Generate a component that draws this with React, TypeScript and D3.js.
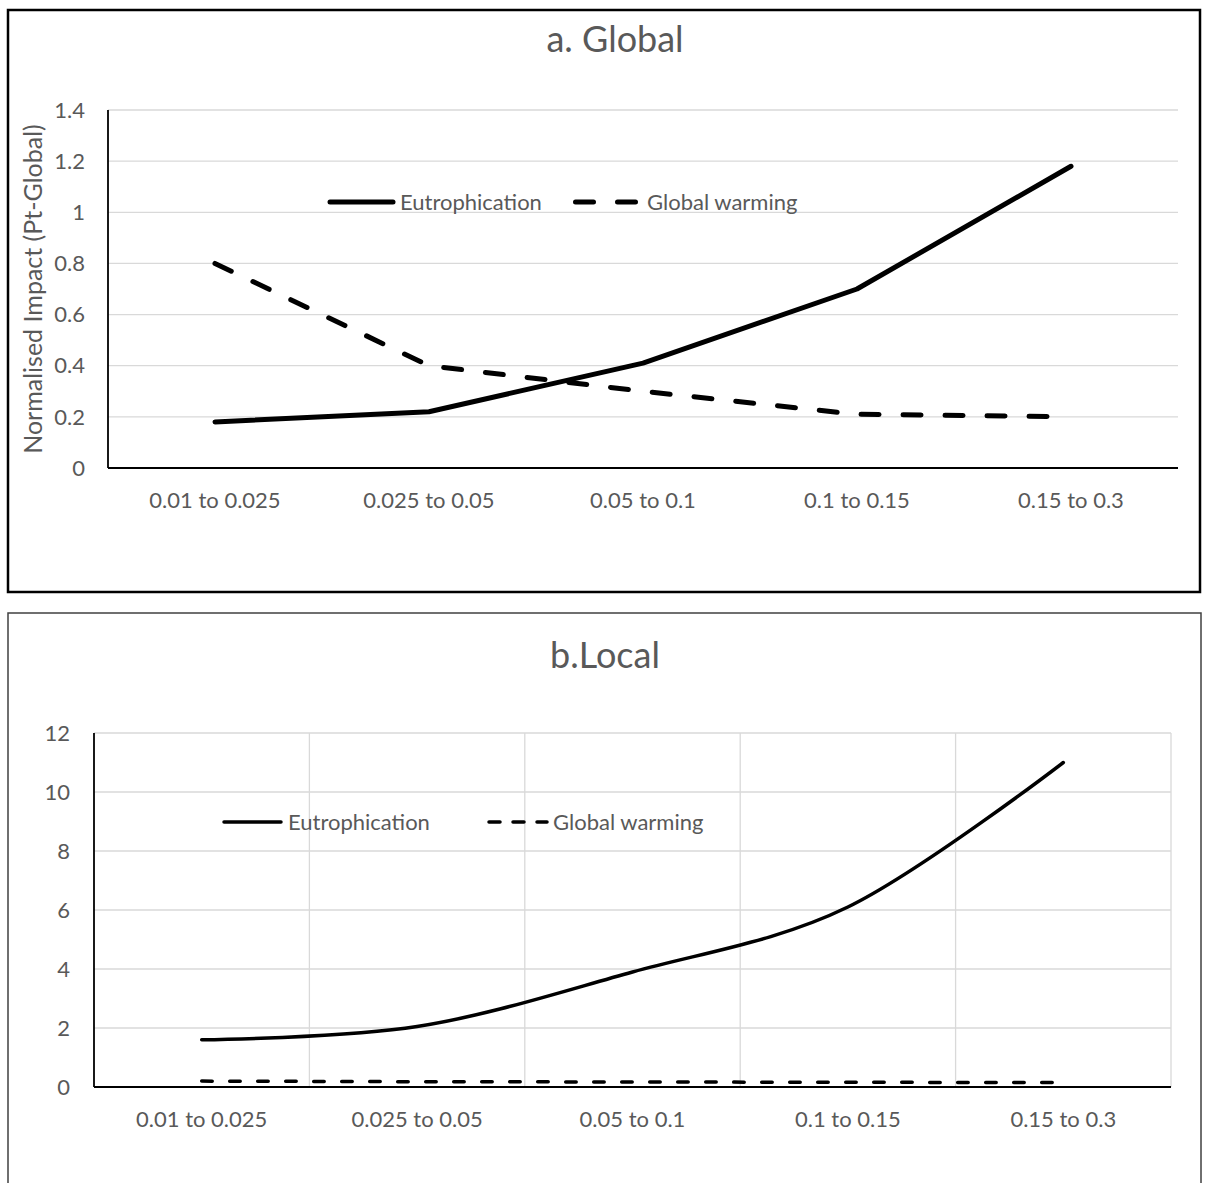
import React from "react";
import * as d3 from "d3";

const categories = ["0.01 to 0.025", "0.025 to 0.05", "0.05 to 0.1", "0.1 to 0.15", "0.15 to 0.3"];
const globalEutrophication = [0.18, 0.22, 0.41, 0.70, 1.18];
const globalWarmingGlobal = [0.80, 0.40, 0.30, 0.21, 0.20];
const localEutrophication = [1.6, 2.05, 3.9, 6.1, 11.0];
const globalWarmingLocal = [0.2, 0.18, 0.17, 0.16, 0.15];
const globalTicks = [0, 0.2, 0.4, 0.6, 0.8, 1, 1.2, 1.4];
const localTicks = [0, 2, 4, 6, 8, 10, 12];
const seriesNames = ["Eutrophication", "Global warming"];

const FONT = "Lato, 'Open Sans', sans-serif";
const TXT = "#595959";
const GRID = "#d9d9d9";

export default function App() {
  // ---------- Panel A ----------
  const aLeft = 108, aRight = 1178, aTop = 110, aBottom = 468;
  const xA = d3.scaleBand<string>().domain(categories).range([aLeft, aRight]);
  const yA = d3.scaleLinear().domain([0, 1.4]).range([aBottom, aTop]);
  const cxA = (c: string) => (xA(c) as number) + xA.bandwidth() / 2;
  const lineA = d3
    .line<number>()
    .x((_, i) => cxA(categories[i]))
    .y((v) => yA(v));

  // ---------- Panel B ----------
  const bLeft = 94, bRight = 1171, bTop = 733, bBottom = 1087;
  const xB = d3.scaleBand<string>().domain(categories).range([bLeft, bRight]);
  const yB = d3.scaleLinear().domain([0, 12]).range([bBottom, bTop]);
  const cxB = (c: string) => (xB(c) as number) + xB.bandwidth() / 2;
  const lineBSmooth = d3
    .line<number>()
    .x((_, i) => cxB(categories[i]))
    .y((v) => yB(v))
    .curve(d3.curveCatmullRom.alpha(0));
  const lineB = d3
    .line<number>()
    .x((_, i) => cxB(categories[i]))
    .y((v) => yB(v));

  const fmt = (v: number) => String(+v.toFixed(1));

  return (
    <svg
      width={1207}
      height={1183}
      style={{ position: "absolute", left: 0, top: 0, background: "#fff" }}
      fontFamily={FONT}
    >
      <rect x={0} y={0} width={1207} height={1183} fill="#fff" />

      {/* ===== Panel A ===== */}
      <rect x={8} y={10} width={1192} height={582} fill="#fff" stroke="#000" strokeWidth={2.5} />
      <text x={615} y={52} textAnchor="middle" fontSize={36} fill={TXT}>a. Global</text>
      {globalTicks.map((t) => (
        <g key={"ga" + t}>
          {t > 0 && <line x1={aLeft} x2={aRight} y1={yA(t)} y2={yA(t)} stroke={GRID} strokeWidth={1.3} />}
          <text x={aLeft - 23} y={yA(t)} dy="0.35em" textAnchor="end" fontSize={22} fill={TXT}>{fmt(t)}</text>
        </g>
      ))}
      <line x1={aLeft} x2={aLeft} y1={aTop} y2={aBottom} stroke="#000" strokeWidth={1.8} />
      <line x1={aLeft} x2={aRight} y1={aBottom} y2={aBottom} stroke="#000" strokeWidth={1.8} />
      {categories.map((c) => (
        <text key={"xa" + c} x={cxA(c)} y={aBottom + 32} dy="0.35em" textAnchor="middle" fontSize={22} fill={TXT}>{c}</text>
      ))}
      <text
        transform={`translate(33,${(aTop + aBottom) / 2}) rotate(-90)`}
        textAnchor="middle"
        dy="0.35em"
        fontSize={25}
        fill={TXT}
      >
        Normalised Impact (Pt-Global)
      </text>
      <path d={lineA(globalWarmingGlobal) || ""} fill="none" stroke="#000" strokeWidth={5} strokeDasharray="18 24" strokeLinecap="round" strokeLinejoin="round" />
      <path d={lineA(globalEutrophication) || ""} fill="none" stroke="#000" strokeWidth={5} strokeLinecap="round" strokeLinejoin="round" />
      {/* legend A */}
      <line x1={330} x2={393} y1={202} y2={202} stroke="#000" strokeWidth={5} strokeLinecap="round" />
      <text x={400} y={202} dy="0.35em" fontSize={22} fill={TXT}>{seriesNames[0]}</text>
      <line x1={575.5} x2={636} y1={202} y2={202} stroke="#000" strokeWidth={5} strokeLinecap="round" strokeDasharray="18 24" />
      <text x={647} y={202} dy="0.35em" fontSize={22} fill={TXT}>{seriesNames[1]}</text>

      {/* ===== Panel B ===== */}
      <rect x={8} y={613} width={1193} height={580} fill="#fff" stroke="#404040" strokeWidth={1.5} />
      <text x={605} y={668} textAnchor="middle" fontSize={36} fill={TXT}>b.Local</text>
      {localTicks.map((t) => (
        <g key={"gb" + t}>
          {t > 0 && <line x1={bLeft} x2={bRight} y1={yB(t)} y2={yB(t)} stroke={GRID} strokeWidth={1.3} />}
          <text x={bLeft - 24} y={yB(t)} dy="0.35em" textAnchor="end" fontSize={22} fill={TXT}>{fmt(t)}</text>
        </g>
      ))}
      {categories.map((c) => (
        <line
          key={"vb" + c}
          x1={(xB(c) as number) + xB.bandwidth()}
          x2={(xB(c) as number) + xB.bandwidth()}
          y1={bTop}
          y2={bBottom}
          stroke={GRID}
          strokeWidth={1.3}
        />
      ))}
      <line x1={bLeft} x2={bLeft} y1={bTop} y2={bBottom} stroke="#000" strokeWidth={1.8} />
      <line x1={bLeft} x2={bRight} y1={bBottom} y2={bBottom} stroke="#000" strokeWidth={1.8} />
      {categories.map((c) => (
        <text key={"xb" + c} x={cxB(c)} y={bBottom + 32} dy="0.35em" textAnchor="middle" fontSize={22} fill={TXT}>{c}</text>
      ))}
      <path d={lineB(globalWarmingLocal) || ""} fill="none" stroke="#000" strokeWidth={3.5} strokeDasharray="10.5 17.5" strokeLinecap="round" />
      <path d={lineBSmooth(localEutrophication) || ""} fill="none" stroke="#000" strokeWidth={3.5} strokeLinecap="round" strokeLinejoin="round" />
      {/* legend B */}
      <line x1={224} x2={281} y1={822} y2={822} stroke="#000" strokeWidth={3.5} strokeLinecap="round" />
      <text x={288} y={822} dy="0.35em" fontSize={22} fill={TXT}>{seriesNames[0]}</text>
      <line x1={489} x2={547} y1={822} y2={822} stroke="#000" strokeWidth={3.5} strokeLinecap="round" strokeDasharray="11 13" />
      <text x={553} y={822} dy="0.35em" fontSize={22} fill={TXT}>{seriesNames[1]}</text>
    </svg>
  );
}
